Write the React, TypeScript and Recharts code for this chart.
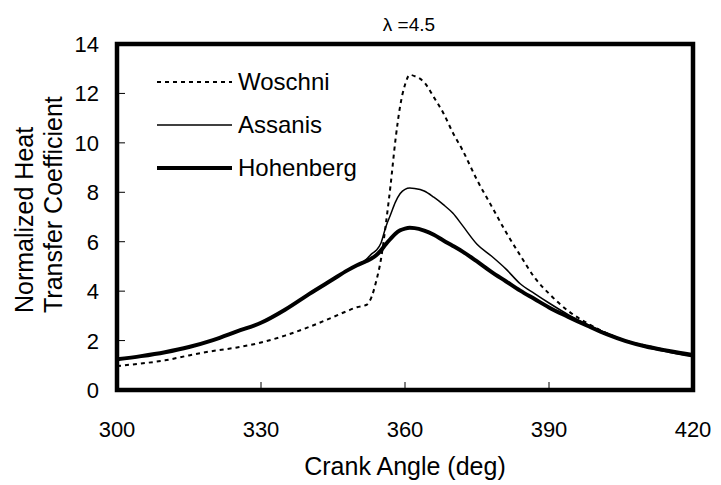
import { LineChart, Line, XAxis, YAxis, ReferenceArea } from "recharts";

// crank angle (deg)
const angles = [
  300, 305, 310, 315, 320, 325, 330, 335, 340, 345, 348, 350, 352, 353, 354, 355, 356, 357, 358, 359, 360, 361, 362,
  364, 366, 368, 370, 372, 375, 378, 381, 384, 387, 390, 394, 398, 402, 406, 410, 415, 420,
];

const woschni = [
  0.97, 1.07, 1.2, 1.4, 1.58, 1.72, 1.92, 2.2, 2.55, 2.95, 3.2, 3.35, 3.45, 3.75, 4.4, 5.3, 6.7, 8.3, 10.1, 11.5,
  12.35, 12.75, 12.7, 12.45, 11.85, 11.2, 10.4, 9.7, 8.5, 7.45, 6.4, 5.45, 4.55, 3.9, 3.2, 2.7, 2.3, 2.0, 1.8, 1.6, 1.38,
];

const assanis = [
  1.23, 1.36, 1.52, 1.73, 2.01, 2.36, 2.71, 3.24, 3.87, 4.47, 4.83, 5.05, 5.3, 5.5, 5.65, 5.95, 6.6, 7.1, 7.6, 7.95,
  8.12, 8.17, 8.15, 8.05, 7.8, 7.5, 7.15, 6.65, 5.9, 5.42, 4.9, 4.3, 3.9, 3.52, 3.05, 2.65, 2.3, 1.98, 1.74, 1.53, 1.34,
];

const hohenberg = [
  1.24, 1.37, 1.53, 1.74, 2.02, 2.37, 2.72, 3.25, 3.88, 4.48, 4.84, 5.05, 5.22, 5.32, 5.45, 5.65, 5.9, 6.12, 6.32,
  6.46, 6.53, 6.56, 6.55, 6.45, 6.28, 6.05, 5.83, 5.6, 5.2, 4.78, 4.4, 4.02, 3.68, 3.34, 2.96, 2.6, 2.26, 1.98, 1.77,
  1.58, 1.42,
];

const xTicks = [300, 330, 360, 390, 420];
const yTicks = [0, 2, 4, 6, 8, 10, 12, 14];

const data = angles.map((a, i) => ({
  angle: a,
  woschni: woschni[i],
  assanis: assanis[i],
  hohenberg: hohenberg[i],
}));

const series = [
  { key: "woschni", name: "Woschni", width: 2, dash: "4 4" },
  { key: "assanis", name: "Assanis", width: 1.5, dash: undefined },
  { key: "hohenberg", name: "Hohenberg", width: 4, dash: undefined },
];

const FONT = "'Liberation Sans', Arial, sans-serif";

const XTick = (props: any) => {
  const { x, y, payload } = props;
  const edge = payload.value === 300 || payload.value === 420;
  return (
    <g>
      {!edge && <line x1={x} x2={x} y1={y} y2={y - 8} stroke="#000" strokeWidth={1} />}
      <text x={x} y={y + 47} textAnchor="middle" fontSize={22} fontFamily={FONT} fill="#000">
        {payload.value}
      </text>
    </g>
  );
};

const YTick = (props: any) => {
  const { x, y, payload } = props;
  const edge = payload.value === 0 || payload.value === 14;
  return (
    <g>
      {!edge && <line x1={x} x2={x + 8} y1={y} y2={y} stroke="#000" strokeWidth={1} />}
      <text x={x - 18} y={y + 8} textAnchor="end" fontSize={22} fontFamily={FONT} fill="#000">
        {payload.value}
      </text>
    </g>
  );
};

export default function App() {
  return (
    <div style={{ position: "absolute", left: 0, top: 0, width: 721, height: 485, background: "#fff" }}>
      <LineChart width={721} height={485} data={data} margin={{ top: 44, right: 28, bottom: 0, left: 0 }}>
        <XAxis
          dataKey="angle"
          type="number"
          domain={[300, 420]}
          ticks={xTicks}
          axisLine={false}
          tickLine={false}
          tickSize={0}
          tickMargin={0}
          height={95}
          tick={<XTick />}
          interval={0}
        />
        <YAxis
          type="number"
          domain={[0, 14]}
          ticks={yTicks}
          axisLine={false}
          tickLine={false}
          tickSize={0}
          tickMargin={0}
          width={117}
          tick={<YTick />}
          interval={0}
        />
        <ReferenceArea x1={300} x2={420} y1={0} y2={14} fill="none" stroke="#000" strokeWidth={4.5} ifOverflow="visible" />
        {series.map((s) => (
          <Line
            key={s.key}
            dataKey={s.key}
            name={s.name}
            type="monotone"
            stroke="#000"
            strokeWidth={s.width}
            strokeDasharray={s.dash}
            dot={false}
            isAnimationActive={false}
          />
        ))}
        {/* legend inside the plot, top-left */}
        {series.map((s, i) => (
          <g key={"lg-" + s.key}>
            <line x1={157} x2={232} y1={82 + i * 43} y2={82 + i * 43} stroke="#000" strokeWidth={s.width} strokeDasharray={s.dash} />
            <text x={238} y={90 + i * 43} fontSize={24} fontFamily={FONT} fill="#000">
              {s.name}
            </text>
          </g>
        ))}
        <text x={409} y={31} textAnchor="middle" fontSize={19} fontFamily={FONT} fill="#000">
          λ =4.5
        </text>
        <text x={405} y={475} textAnchor="middle" fontSize={25} fontFamily={FONT} fill="#000">
          Crank Angle (deg)
        </text>
        <text x={33} y={313} transform="rotate(-90 33 313)" fontSize={25} fontFamily={FONT} fill="#000">
          Normalized Heat
        </text>
        <text x={62} y={313} transform="rotate(-90 62 313)" fontSize={25} fontFamily={FONT} fill="#000">
          Transfer Coefficient
        </text>
      </LineChart>
    </div>
  );
}
